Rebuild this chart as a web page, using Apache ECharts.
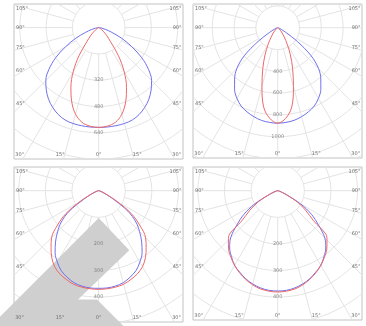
<!DOCTYPE html>
<html>
<head>
<meta charset="utf-8">
<script src="https://cdn.jsdelivr.net/npm/echarts@6/dist/echarts.min.js"></script>
<style>
  html, body { margin: 0; padding: 0; background: #fff; }
  #chart { width: 366px; height: 326px; }
</style>
</head>
<body>
<div id="chart"></div>
<script>
// gamma angles (deg from nadir), mirrored to both sides when drawn
const angles = [0, 5, 10, 15, 20, 25, 30, 35, 40, 45, 50, 55, 60, 65, 70, 75, 80, 85, 90]
const anglesNotch = [0, 5, 10, 15, 20, 25, 30, 35, 40, 45, 48, 50, 55, 60, 65, 70, 75, 80, 85, 90]

// luminous intensity, cd
const p1Blue = [607, 607, 606, 604, 598, 583, 560, 532, 496, 455, 395, 320, 232, 155, 85, 45, 20, 7, 0]
const p1Red = [607, 602, 585, 545, 480, 400, 310, 210, 112, 70, 40, 22, 12, 6, 3, 1, 0, 0, 0]
const p2Blue = [876, 872, 863, 845, 822, 793, 748, 690, 615, 530, 400, 220, 85, 35, 18, 9, 4, 2, 0]
const p2Red = [876, 835, 740, 558, 400, 275, 175, 105, 65, 35, 18, 8, 4, 2, 1, 0, 0, 0, 0]
const p3Blue = [367, 367, 364, 358, 346, 332, 310, 285, 252, 218, 183, 135, 65, 30, 14, 6, 3, 1, 0]
const p3Red = [371, 370, 368, 364, 355, 345, 330, 307, 278, 250, 202, 150, 80, 32, 14, 6, 3, 1, 0]
const p4Blue = [377, 376, 371, 363, 352, 338, 324, 303, 281, 250, 200, 155, 100, 38, 15, 6, 3, 1, 0]
const p4Red = [381, 379, 375, 366, 354, 340, 324, 306, 287, 262, 243, 176, 128, 85, 40, 16, 6, 3, 1, 0]

// ring steps and labelled rings
const ringSteps = [160, 200, 100, 100]
const p1RingLabels = [320, 480, 640]
const p2RingLabels = [400, 600, 800, 1000]
const p3RingLabels = [200, 300, 400]
const p4RingLabels = [200, 300, 400]

const sideLabels = ['105°', '90°', '75°', '60°', '45°']
const bottomLabels = ['30°', '15°', '0°', '15°', '30°']

const BLUE = '#7070ee'
const RED = '#ee6868'
const GRID = '#e3e3e3'
const TEXT = '#6e6e6e'

const panels = [
  { left: 14, top: 4, width: 169, height: 155, cx: 98.7, cy: 27.6, ppu: 26.3 / 160, step: ringSteps[0], rings: p1RingLabels, blue: p1Blue, red: p1Red, redAngles: angles },
  { left: 193, top: 4, width: 169, height: 154, cx: 277.7, cy: 27.7, ppu: 21.8 / 200, step: ringSteps[1], rings: p2RingLabels, blue: p2Blue, red: p2Red, redAngles: angles },
  { left: 14, top: 167, width: 169, height: 155, cx: 98.6, cy: 190.7, ppu: 26.6 / 100, step: ringSteps[2], rings: p3RingLabels, blue: p3Blue, red: p3Red, redAngles: angles },
  { left: 193, top: 167, width: 169, height: 153, cx: 277.7, cy: 190.7, ppu: 26.6 / 100, step: ringSteps[3], rings: p4RingLabels, blue: p4Blue, red: p4Red, redAngles: anglesNotch }
]

function rad (d) { return d * Math.PI / 180 }
function toXY (a, v) { return [v * Math.sin(rad(a)), -v * Math.cos(rad(a))] }

function curve (ang, vals) {
  let pts = []
  for (let i = ang.length - 1; i >= 0; i--) pts.push(toXY(-ang[i], vals[i]))
  for (let i = 1; i < ang.length; i++) pts.push(toXY(ang[i], vals[i]))
  return pts
}

let grids = []
let xAxes = []
let yAxes = []
let series = []
let graphics = []

panels.forEach((p, i) => {
  grids.push({
    left: p.left, top: p.top, width: p.width, height: p.height,
    show: true, borderColor: '#c2c2c2', borderWidth: 1, backgroundColor: '#fff'
  })
  xAxes.push({ gridIndex: i, type: 'value', show: false, min: -(p.cx - p.left) / p.ppu, max: (p.left + p.width - p.cx) / p.ppu })
  yAxes.push({ gridIndex: i, type: 'value', show: false, min: -(p.top + p.height - p.cy) / p.ppu, max: (p.cy - p.top) / p.ppu })

  let base = { type: 'line', xAxisIndex: i, yAxisIndex: i, symbol: 'none', silent: true, animation: false, clip: true, z: 1 }
  let maxR = Math.hypot(Math.max(p.cx - p.left, p.left + p.width - p.cx), Math.max(p.cy - p.top, p.top + p.height - p.cy)) / p.ppu

  // rings
  for (let r = p.step; r <= maxR + p.step; r += p.step) {
    let pts = []
    for (let a = 0; a <= 360; a += 2) pts.push(toXY(a, r))
    series.push(Object.assign({}, base, { data: pts, lineStyle: { color: GRID, width: 1 } }))
  }
  // rays every 15 deg, starting at the first ring
  for (let a = 0; a < 360; a += 15) {
    series.push(Object.assign({}, base, { data: [toXY(a, p.step), toXY(a, maxR + p.step)], lineStyle: { color: GRID, width: 1 } }))
  }

  // curves
  series.push(Object.assign({}, base, { z: 5, smooth: 0.35, data: curve(angles, p.blue), lineStyle: { color: BLUE, width: 1 } }))
  series.push(Object.assign({}, base, { z: 5, smooth: 0.35, data: curve(p.redAngles, p.red), lineStyle: { color: RED, width: 1 } }))

  // ring labels on the nadir axis
  series.push({
    type: 'scatter', xAxisIndex: i, yAxisIndex: i, silent: true, animation: false, z: 6,
    symbolSize: 0,
    data: p.rings.map(v => [0, -v]),
    label: { show: true, position: 'inside', fontSize: 5, color: TEXT, fontFamily: 'DejaVu Sans', formatter: d => String(Math.round(-d.value[1])) }
  })

  // angle labels along the box border
  let sideDy = [-18.6, 0, 20, 43.3, 76]
  sideLabels.forEach((t, k) => {
    graphics.push({ type: 'text', x: p.left + 2, y: p.cy + sideDy[k], z: 6, silent: true, style: { text: t, fill: TEXT, fontSize: 5, fontFamily: 'DejaVu Sans', align: 'left', verticalAlign: 'middle' } })
    graphics.push({ type: 'text', x: p.left + p.width - 1.5, y: p.cy + sideDy[k], z: 6, silent: true, style: { text: t, fill: TEXT, fontSize: 5, fontFamily: 'DejaVu Sans', align: 'right', verticalAlign: 'middle' } })
  })
  let bottomDx = [-79, -38.5, 0, 38.5, 78]
  bottomLabels.forEach((t, k) => {
    graphics.push({ type: 'text', x: p.cx + bottomDx[k], y: p.top + p.height - 4, z: 6, silent: true, style: { text: t, fill: TEXT, fontSize: 5, fontFamily: 'DejaVu Sans', align: 'center', verticalAlign: 'middle' } })
  })
})

// watermark arrow over the third panel
graphics.push({
  type: 'polygon', z: 2, silent: true,
  shape: { points: [[98.7, 218], [129.3, 250.3], [78, 299.5], [97, 299.5], [123.5, 326], [0, 326], [0, 316.7]] },
  style: { fill: '#cfcfcf' }
})

let chart = echarts.init(document.getElementById('chart'))
chart.setOption({
  animation: false,
  backgroundColor: '#fff',
  grid: grids,
  xAxis: xAxes,
  yAxis: yAxes,
  series: series,
  graphic: { elements: graphics }
})
</script>
</body>
</html>
